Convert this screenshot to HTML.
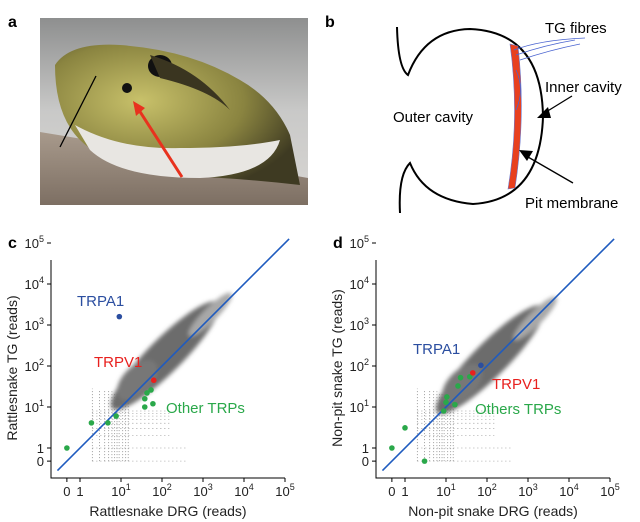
<!DOCTYPE html>
<html><head><meta charset="utf-8"><style>
body{margin:0;background:#fff;}
svg{display:block;font-family:"Liberation Sans",Arial,sans-serif;}
</style></head><body>
<svg id="fig" width="640" height="522" viewBox="0 0 640 522">
<defs>
<linearGradient id="bg" x1="0" y1="0" x2="0" y2="1"><stop offset="0" stop-color="#8e8f8f"/><stop offset="0.5" stop-color="#c9c9c8"/><stop offset="1" stop-color="#d8d6d3"/></linearGradient>
<linearGradient id="rock" x1="0" y1="0" x2="0" y2="1"><stop offset="0" stop-color="#a89a8c"/><stop offset="1" stop-color="#7d6f63"/></linearGradient>
<radialGradient id="head" cx="0.35" cy="0.4" r="0.7"><stop offset="0" stop-color="#c8c16a"/><stop offset="0.6" stop-color="#8a8440"/><stop offset="1" stop-color="#3e3a22"/></radialGradient>
<filter id="blur"><feGaussianBlur stdDeviation="2.2"/></filter>
</defs>

<!-- Panel a -->
<text x="8" y="27" font-size="16" font-weight="bold">a</text>
<g>
<rect x="40" y="18" width="268" height="187" fill="url(#bg)"/>
<path d="M40 132 Q150 150 308 178 L308 205 L40 205Z" fill="url(#rock)"/>
<path d="M55 65 Q70 42 120 45 Q190 50 240 80 Q275 100 290 135 L300 185 Q240 178 180 176 Q110 170 80 140 Q55 115 55 65Z" fill="url(#head)"/>
<path d="M75 125 Q120 150 180 148 Q240 148 280 140 Q270 175 200 178 Q120 178 90 150Z" fill="#e8e6e2"/>
<ellipse cx="160" cy="66" rx="12" ry="11" fill="#111"/>
<ellipse cx="127" cy="88" rx="5" ry="5" fill="#111"/>
<path d="M150 55 Q200 70 230 110 Q210 90 160 78Z" fill="#3a3520"/>
<line x1="60" y1="147" x2="96" y2="76" stroke="#000" stroke-width="1.3"/>
<line x1="182" y1="177" x2="137" y2="107" stroke="#e8321e" stroke-width="3"/>
<polygon points="133,101 145,108 136,116" fill="#e8321e"/>
</g>

<!-- Panel b -->
<text x="325" y="27" font-size="16" font-weight="bold">b</text>
<g fill="none" stroke="#000" stroke-width="2">
<path d="M397 27 Q398 68 408 75 Q425 30 470 29 Q542 32 543 117 Q540 200 473 204 Q425 200 410 163 Q398 175 400 213"/>
</g>
<path d="M510 44 Q520 117 508 189 L515 188 Q526 117 518 46Z" fill="#e8401f" stroke="#6a7ad0" stroke-width="0.6"/>
<path d="M514 50 Q540 40 585 38 M516 55 Q545 45 575 40 M520 60 Q550 50 580 44 M516 70 Q525 90 516 110" fill="none" stroke="#4a64d0" stroke-width="0.8"/>
<text x="545" y="33" font-size="15">TG fibres</text>
<text x="545" y="92" font-size="15">Inner cavity</text>
<text x="393" y="122" font-size="15">Outer cavity</text>
<text x="525" y="208" font-size="15">Pit membrane</text>
<line x1="572" y1="96" x2="546" y2="112" stroke="#000" stroke-width="1.3"/>
<polygon points="537,118 548,107 551,118" fill="#000"/>
<line x1="573" y1="183" x2="528" y2="157" stroke="#000" stroke-width="1.3"/>
<polygon points="519,150 533,151 527,161" fill="#000"/>

<g id="plotc"></g>
<g id="plotd"></g>
</svg>
<script>
// Panel c data
const cGreenX=[0,1.9,4.8,7.6,38,38,43,54,60];
const cGreenY=[1,4.1,4.1,6.0,10,15.9,22,26,12];
const cRedX=[63], cRedY=[45];
const cBlueX=[9.1], cBlueY=[1600];
// Panel d data
const dGreenX=[0,1,3.0,8.8,10,10.5,16.5,19.6,22.6,38];
const dGreenY=[1,3.1,0,8,13,17.6,11.4,32.6,52,54.7];
const dRedX=[45], dRedY=[68];
const dBlueX=[71], dBlueY=[104];
const tickLabels=["0","1","10","10","10","10","10"];
const tickExp=["","","1","2","3","4","5"];
const tickVals=[0,1,10,100,1000,10000,100000];

const NS="http://www.w3.org/2000/svg";
function mk(p,t,a){const e=document.createElementNS(NS,t);for(const k in a)e.setAttribute(k,a[k]);p.appendChild(e);return e;}

function panel(g,ox,letter,xt,yt,gx,gy,rx,ry,bx,by,cloudOffset,cloudW,labels){
  const D=41, x1=ox+80, y1=448;
  const lg=v=>v<=0?-0.32:Math.log10(v);
  const X=v=>x1+D*lg(v);
  const Y=v=>y1-D*lg(v);
  const axL=ox+51, axB=478;
  const lt=mk(g,'text',{x:ox+8,y:248,'font-size':16,'font-weight':'bold'});lt.textContent=letter;
  
  
  const cols=[2,3,4,5,6,7,8,9,11,13,15];
  cols.forEach(c=>{const x=X(c);mk(g,'line',{x1:x,x2:x,y1:Y(0),y2:Y(30-c),stroke:'#888','stroke-width':0.8,'stroke-dasharray':'1 2'});});
  [0,1,2,3,4,5,6,7,8].forEach(r=>{const y=Y(r);mk(g,'line',{x1:X(2),x2:X(r<2?400:150),y1:y,y2:y,stroke:'#999','stroke-width':0.8,'stroke-dasharray':'1 3'});});
  const cl=mk(g,'g',{filter:'url(#blur)'});
  
  
  const cx=X(120),cy=Y(120*cloudOffset);
  mk(cl,'ellipse',{cx:cx,cy:cy,rx:cloudW,ry:17,fill:'#6c6c6c',transform:`rotate(-45 ${cx} ${cy})`});
  const c2x=X(25),c2y=Y(25*cloudOffset*1.2);
  mk(cl,'ellipse',{cx:c2x,cy:c2y,rx:25,ry:14,fill:'#777',transform:`rotate(-45 ${c2x} ${c2y})`});
  const c3x=X(1500),c3y=Y(1500*cloudOffset*0.8);
  mk(cl,'ellipse',{cx:c3x,cy:c3y,rx:30,ry:7,fill:'#a8a8a8',transform:`rotate(-45 ${c3x} ${c3y})`});
  mk(g,'path',{d:`M${axL} 260 V${axB} H${ox+285}`,fill:'none',stroke:'#000','stroke-width':1});
  tickVals.forEach((v,i)=>{
    const x=X(v);mk(g,'line',{x1:x,x2:x,y1:axB,y2:axB+4,stroke:'#000'});
    const t=mk(g,'text',{x:x,y:axB+18,'font-size':13,'text-anchor':'middle',fill:'#222'});
    
    
    t.textContent=tickLabels[i];
    if(tickExp[i]){const s=mk(t,'tspan',{dy:-6,'font-size':9});s.textContent=tickExp[i];}
    const y=Y(v);mk(g,'line',{x1:axL-4,x2:axL,y1:y,y2:y,stroke:'#000'});
    const u=mk(g,'text',{x:axL-7,y:y+5,'font-size':13,'text-anchor':'end',fill:'#222'});
    
    
    u.textContent=tickLabels[i];
    if(tickExp[i]){const s=mk(u,'tspan',{dy:-6,'font-size':9});s.textContent=tickExp[i];}
  });
  const xa=mk(g,'text',{x:ox+168,y:516,'font-size':14,'text-anchor':'middle',fill:'#222'});xa.textContent=xt;
  
  
  const ya=mk(g,'text',{x:0,y:0,'font-size':14,'text-anchor':'middle',fill:'#222',transform:`translate(${ox+17},368) rotate(-90)`});ya.textContent=yt;
  
  
  const ln=mk(g,'line',{x1:X(Math.pow(10,-0.55)),y1:Y(Math.pow(10,-0.55)),x2:X(Math.pow(10,5.1)),y2:Y(Math.pow(10,5.1)),stroke:'#1f5bbf','stroke-width':1.6});
  
  
  const pts=(xs,ys,col,name)=>xs.forEach((v,i)=>{const c=mk(g,'circle',{cx:X(v),cy:Y(ys[i]),r:2.8,fill:col});
    
    });
  pts(gx,gy,'#2aa84a','other-trp-point');
  pts(rx,ry,'#e8201e','trpv1-point');
  pts(bx,by,'#2b4ea0','trpa1-point');
  labels.forEach(l=>{const t=mk(g,'text',{x:ox+l[0],y:l[1],'font-size':15,fill:l[2]});t.textContent=l[3];
    
    });
}
panel(document.getElementById('plotc'),0,'c','Rattlesnake DRG (reads)','Rattlesnake TG (reads)',cGreenX,cGreenY,cRedX,cRedY,cBlueX,cBlueY,1.5,75,
 [[77,306,'#2b4ea0','TRPA1','trpa1-label'],[94,367,'#e8201e','TRPV1','trpv1-label'],[166,413,'#2aa84a','Other TRPs','other-trps-label']]);
panel(document.getElementById('plotd'),325,'d','Non-pit snake DRG (reads)','Non-pit snake TG (reads)',dGreenX,dGreenY,dRedX,dRedY,dBlueX,dBlueY,1.2,75,
 [[88,354,'#2b4ea0','TRPA1','trpa1-label'],[167,389,'#e8201e','TRPV1','trpv1-label'],[150,414,'#2aa84a','Others TRPs','other-trps-label']]);
</script>
</body></html>
